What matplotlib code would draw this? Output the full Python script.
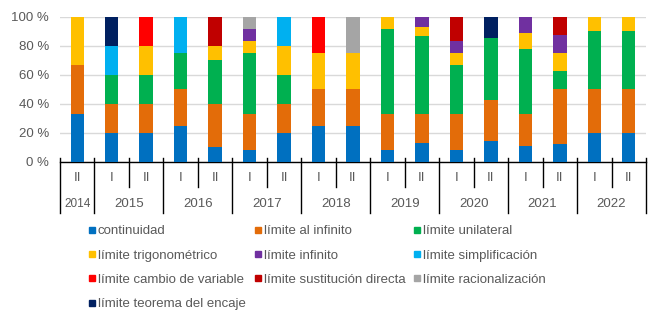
import numpy as np
import matplotlib
matplotlib.use('Agg')
from matplotlib import pyplot as plt
from matplotlib.lines import Line2D
import matplotlib.transforms as mtransforms

plt.rcParams['font.family'] = ['Liberation Sans', 'DejaVu Sans']

# categories
semesters = ['II', 'I', 'II', 'I', 'II', 'I', 'II', 'I', 'II', 'I', 'II', 'I', 'II', 'I', 'II', 'I', 'II']
years = ['2014', '2015', '2016', '2017', '2018', '2019', '2020', '2021', '2022']
year_span = [1, 2, 2, 2, 2, 2, 2, 2, 2]

series = ['continuidad', 'límite al infinito', 'límite unilateral',
          'límite trigonométrico', 'límite infinito', 'límite simplificación',
          'límite cambio de variable', 'límite sustitución directa',
          'límite racionalización', 'límite teorema del encaje']
colors = ['#0070C0', '#E36C09', '#00B050', '#FFC000', '#7030A0', '#00B0F0',
          '#FF0000', '#C00000', '#A5A5A5', '#002060']

# percentages per semester, in series order
continuidad   = [33.3, 20, 20, 25, 10, 8.3, 20, 25, 25, 8.3, 13.3, 8.3, 14.3, 11.1, 12.5, 20, 20]
al_infinito   = [33.3, 20, 20, 25, 30, 25, 20, 25, 25, 25, 20, 25, 28.6, 22.2, 37.5, 30, 30]
unilateral    = [0, 20, 20, 25, 30, 41.7, 20, 0, 0, 58.3, 53.3, 33.3, 42.9, 44.4, 12.5, 40, 40]
trigonometric = [33.3, 0, 20, 0, 10, 8.3, 20, 25, 25, 8.3, 6.7, 8.3, 0, 11.1, 12.5, 10, 10]
infinito      = [0, 0, 0, 0, 0, 8.3, 0, 0, 0, 0, 6.7, 8.3, 0, 11.1, 12.5, 0, 0]
simplificac   = [0, 20, 0, 25, 0, 0, 20, 0, 0, 0, 0, 0, 0, 0, 0, 0, 0]
cambio_var    = [0, 0, 20, 0, 0, 0, 0, 25, 0, 0, 0, 0, 0, 0, 0, 0, 0]
sustitucion   = [0, 0, 0, 0, 20, 0, 0, 0, 0, 0, 0, 16.7, 0, 0, 12.5, 0, 0]
racionaliz    = [0, 0, 0, 0, 0, 8.3, 0, 0, 25, 0, 0, 0, 0, 0, 0, 0, 0]
encaje        = [0, 20, 0, 0, 0, 0, 0, 0, 0, 0, 0, 0, 14.3, 0, 0, 0, 0]

data = [continuidad, al_infinito, unilateral, trigonometric, infinito,
        simplificac, cambio_var, sustitucion, racionaliz, encaje]

txt = '#595959'
fig = plt.figure(figsize=(6.55, 3.21), dpi=100)
ax = fig.add_axes([60/655, 1 - 162/321, 586/655, 145/321])

x = np.arange(len(semesters))
bottom = np.zeros(len(semesters))
for vals, col, name in zip(data, colors, series):
    vals = np.array(vals, dtype=float)
    ax.bar(x, vals, 0.39, bottom=bottom, color=col, label=name, zorder=3)
    bottom += vals

ax.set_xlim(-0.5, len(semesters) - 0.5)
ax.set_ylim(0, 100)
ax.set_yticks(np.arange(0, 101, 20))
ax.set_yticklabels(['%d %%' % v for v in range(0, 101, 20)], fontsize=9.5, color=txt)
ax.tick_params(axis='y', length=0, pad=8)
ax.yaxis.grid(True, color='#D9D9D9', linewidth=1, zorder=0)
for s in ['top', 'right', 'left']:
    ax.spines[s].set_visible(False)
ax.spines['bottom'].set_color('black')
ax.spines['bottom'].set_linewidth(1)
ax.set_xticks([])

# two level category axis
trans = mtransforms.blended_transform_factory(ax.transData, ax.transAxes)
year_edges = np.concatenate([[0], np.cumsum(year_span)]) - 0.5
for b in np.arange(len(semesters) + 1) - 0.5:
    low = -0.35 if b in year_edges else -0.17
    ax.plot([b, b], [0.028, low], color='black', lw=1, transform=trans, clip_on=False)
for i, s in enumerate(semesters):
    ax.text(i, -0.11, s, ha='center', va='center', fontsize=9.5, color=txt, transform=trans)
for i, yr in enumerate(years):
    c = (year_edges[i] + year_edges[i + 1]) / 2
    fs = 8.5 if year_span[i] == 1 else 9.5
    ax.text(c, -0.29, yr, ha='center', va='center', fontsize=fs, color=txt, transform=trans)

# legend, filled row by row
order = [0, 3, 6, 9, 1, 4, 7, 2, 5, 8]
handles = [Line2D([], [], marker='s', linestyle='None', markersize=5,
                  markerfacecolor=colors[i], markeredgecolor=colors[i]) for i in order]
labels = [series[i] for i in order]
fig.legend(handles, labels, ncol=3, loc='upper left', bbox_to_anchor=(88/655, 1 - 225/321),
           frameon=False, fontsize=9.5, labelcolor=txt, handlelength=0.6, handletextpad=0.15,
           columnspacing=0.6, labelspacing=0.92, borderpad=0, borderaxespad=0)

fig.savefig('out.png', dpi=100)
